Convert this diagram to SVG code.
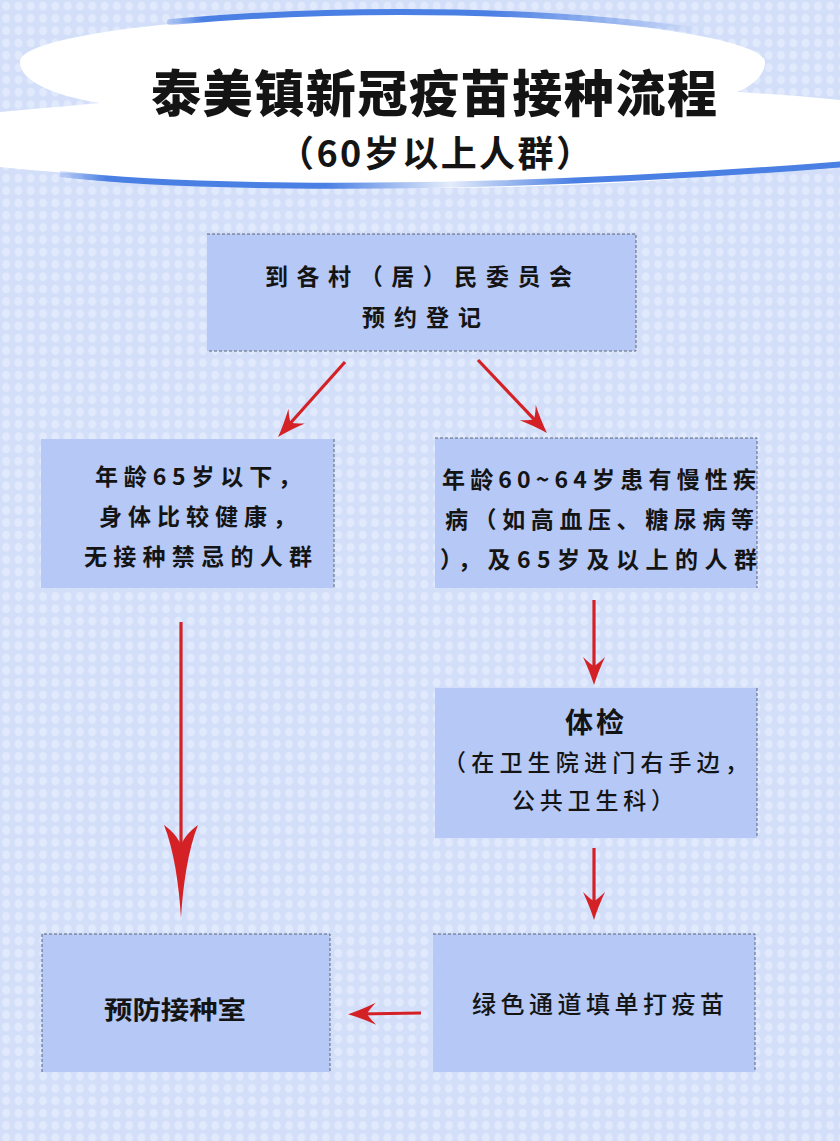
<svg xmlns="http://www.w3.org/2000/svg" width="840" height="1141" viewBox="0 0 840 1141">
<style>
  .box { fill: #b5c8f6; }
  .edge { stroke: #5d6475; stroke-width: 1; stroke-dasharray: 3 2; fill: none; }
  .t { font-family: "Noto Sans CJK SC", sans-serif; fill: #141414; }
  .b { font-weight: 700; font-size: 23px; }
  .m { font-weight: 500; font-size: 23px; }
  .conn { stroke: #d42126; stroke-width: 3.2; fill: none; }
</style>
<defs>
  <pattern id="dots" x="0" y="0" width="12.3" height="12.3" patternUnits="userSpaceOnUse">
    <rect width="12.3" height="12.3" fill="#d3def9"/>
    <ellipse cx="6.15" cy="6.15" rx="4" ry="4.4" fill="#e1e9fc"/>
  </pattern>
  <linearGradient id="topArc" x1="170" y1="0" x2="705" y2="0" gradientUnits="userSpaceOnUse">
    <stop offset="0" stop-color="#4a7fe3" stop-opacity="0.3"/>
    <stop offset="0.06" stop-color="#4a7fe3" stop-opacity="1"/>
    <stop offset="0.6" stop-color="#4a7fe3" stop-opacity="1"/>
    <stop offset="1" stop-color="#4a7fe3" stop-opacity="0"/>
  </linearGradient>
  <linearGradient id="botArc" x1="60" y1="0" x2="840" y2="0" gradientUnits="userSpaceOnUse">
    <stop offset="0" stop-color="#4a7fe3" stop-opacity="0.2"/>
    <stop offset="0.06" stop-color="#4a7fe3" stop-opacity="1"/>
    <stop offset="0.34" stop-color="#4a7fe3" stop-opacity="1"/>
    <stop offset="0.5" stop-color="#4a7fe3" stop-opacity="0.15"/>
    <stop offset="0.66" stop-color="#4a7fe3" stop-opacity="1"/>
    <stop offset="1" stop-color="#4a7fe3" stop-opacity="1"/>
  </linearGradient>
  <marker id="barb" markerUnits="userSpaceOnUse" viewBox="-30 -12 32 24" markerWidth="32" markerHeight="24" refX="-10" refY="0" orient="auto">
    <path d="M0,0 Q-13,-4 -28,-11 Q-21,-4 -19,0 Q-21,4 -28,11 Q-13,4 0,0 Z" fill="#d42126"/>
  </marker>
</defs>

<rect width="840" height="1141" fill="url(#dots)"/>

<g id="header">
  <path d="M20,62 C20,35 200,14 400,14 C600,14 765,38 765,62 C765,75 752,86 737,92 C770,94 810,97 850,101 L850,160 C760,175 600,188 420,188 C300,189 150,182 -10,166 L-10,113 C30,109 70,106 100,103 C50,95 20,80 20,62 Z" fill="#ffffff"/>
  <path d="M170,22 C260,14 330,12 400,12 C520,12 620,19 705,32" stroke="url(#topArc)" stroke-width="6" fill="none" stroke-linecap="round"/>
  <path d="M60,174 C200,190 500,192 845,164" stroke="url(#botArc)" stroke-width="6" fill="none"/>
  <text class="t" x="151" y="112" font-size="50" font-weight="900" textLength="566" lengthAdjust="spacing">泰美镇新冠疫苗接种流程</text>
  <text class="t" x="278" y="167" font-size="36" font-weight="700" textLength="314" lengthAdjust="spacing">（60岁以上人群）</text>
</g>

<g id="connectors">
  <line class="conn" x1="345" y1="362" x2="284.7" y2="429.5" marker-end="url(#barb)"/>
  <line class="conn" x1="478" y1="360" x2="540.1" y2="425.7" marker-end="url(#barb)"/>
  <line class="conn" x1="594" y1="600" x2="594" y2="675" marker-end="url(#barb)"/>
  <line class="conn" x1="594" y1="848" x2="594" y2="910" marker-end="url(#barb)"/>
  <line class="conn" x1="421" y1="1013" x2="358" y2="1014" stroke-width="4" marker-end="url(#barb)"/>
  <g id="big-arrow">
    <line class="conn" x1="181" y1="622" x2="181" y2="850" stroke-width="5"/>
    <path d="M181,918 C179,885 174,850 164,825 C171,830 177,836 181,845 C185,836 191,830 198,825 C188,850 183,885 181,918 Z" fill="#d42126"/>
  </g>
</g>

<g id="node-register">
  <rect class="box" x="207" y="234" width="429" height="117"/>
  <path class="edge" d="M207,234 H636 V351 H207"/>
  <text class="t b" x="265" y="285" textLength="307" lengthAdjust="spacing">到各村（居）民委员会</text>
  <text class="t b" x="362" y="326" textLength="119" lengthAdjust="spacing">预约登记</text>
</g>

<g id="node-healthy">
  <rect class="box" x="41" y="439" width="293" height="149"/>
  <path class="edge" d="M334,439 V588"/>
  <text class="t b" x="95" y="485" textLength="206" lengthAdjust="spacing">年龄65岁以下，</text>
  <text class="t b" x="99" y="525" textLength="197" lengthAdjust="spacing">身体比较健康，</text>
  <text class="t b" x="84" y="565" textLength="228" lengthAdjust="spacing">无接种禁忌的人群</text>
</g>

<g id="node-chronic">
  <rect class="box" x="435" y="438" width="322" height="150"/>
  <path class="edge" d="M435,438 H757 V588"/>
  <text class="t b" x="442" y="488" textLength="314" lengthAdjust="spacing">年龄60~64岁患有慢性疾</text>
  <text class="t b" x="445" y="528" textLength="309" lengthAdjust="spacing">病（如高血压、糖尿病等</text>
  <text class="t b" x="440" y="568" textLength="317" lengthAdjust="spacing">），及65岁及以上的人群</text>
</g>

<g id="node-checkup">
  <rect class="box" x="435" y="688" width="322" height="150"/>
  <path class="edge" d="M757,688 V838"/>
  <text class="t" x="596" y="733" font-size="28" font-weight="700" text-anchor="middle" letter-spacing="3">体检</text>
  <text class="t m" x="443" y="771" font-size="22" textLength="305" lengthAdjust="spacing">（在卫生院进门右手边，</text>
  <text class="t m" x="512" y="809" font-size="22" textLength="162" lengthAdjust="spacing">公共卫生科）</text>
</g>

<g id="node-room">
  <rect class="box" x="42" y="934" width="288" height="138"/>
  <path class="edge" d="M42,1072 V934 H330 V1072"/>
  <text class="t" x="104" y="1019" font-size="25" font-weight="700" textLength="142" lengthAdjust="spacingAndGlyphs">预防接种室</text>
</g>

<g id="node-green">
  <rect class="box" x="433" y="934" width="322" height="138"/>
  <path class="edge" d="M433,934 H755 V1072"/>
  <text class="t" x="472" y="1013" font-size="24" font-weight="500" textLength="252" lengthAdjust="spacing">绿色通道填单打疫苗</text>
</g>
</svg>
